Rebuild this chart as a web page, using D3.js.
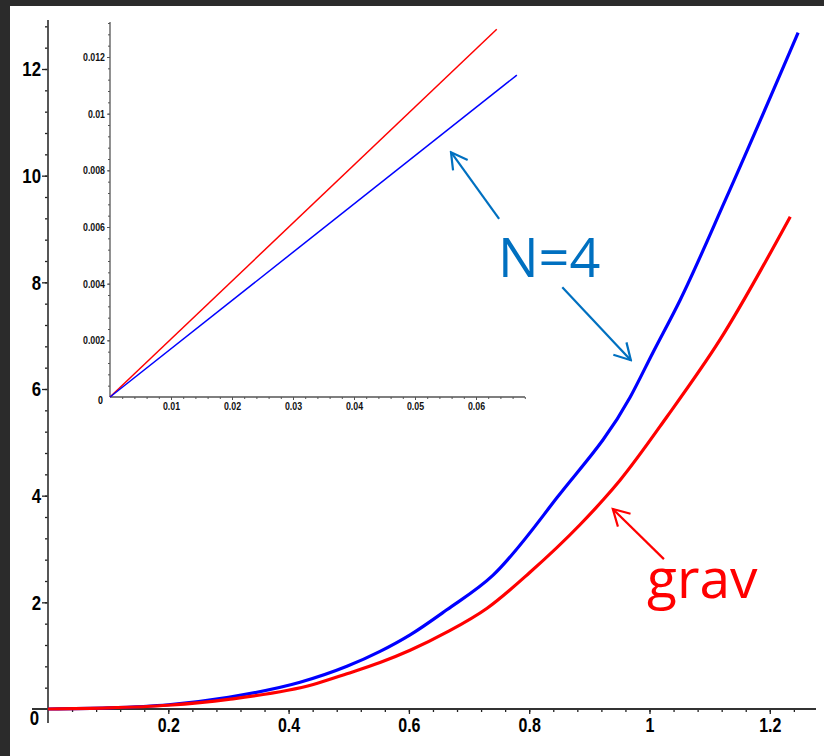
<!DOCTYPE html>
<html>
<head>
<meta charset="utf-8">
<script src="https://cdn.jsdelivr.net/npm/d3@7"></script>
<style>
  body { margin: 0; background: #fff; }
  .lbl { font-family: "Liberation Sans", Arial, sans-serif; font-weight: bold; }
</style>
</head>
<body>
<script>
// main plot data
var blueX = [0, 0.1, 0.2, 0.3, 0.419, 0.497, 0.552, 0.602, 0.663, 0.74, 0.846, 0.968, 1.006, 1.051, 1.126, 1.247];
var blueY = [0, 0.02, 0.08, 0.22, 0.5, 0.8, 1.08, 1.39, 1.86, 2.51, 3.96, 5.85, 6.69, 7.67, 9.54, 12.68];
var redX = [0, 0.1, 0.2, 0.3, 0.441, 0.497, 0.552, 0.602, 0.663, 0.73, 0.8, 0.884, 0.926, 0.951, 1.029, 1.117, 1.234];
var redY = [0, 0.02, 0.07, 0.18, 0.46, 0.66, 0.87, 1.1, 1.44, 1.89, 2.55, 3.45, 3.96, 4.29, 5.48, 6.92, 9.23];
var xTicks = [0.2, 0.4, 0.6, 0.8, 1, 1.2];
var yTicks = [0, 2, 4, 6, 8, 10, 12];

// inset data (straight lines)
var insetBlueX = [0, 0.0667];
var insetBlueY = [0, 0.01136];
var insetRedX = [0, 0.0634];
var insetRedY = [0, 0.01298];
var insetXTicks = [0.01, 0.02, 0.03, 0.04, 0.05, 0.06];
var insetYTicks = [0.002, 0.004, 0.006, 0.008, 0.01, 0.012];

var width = 824, height = 756;
var squeeze = 0.8; // condensed look of the maple labels

var svg = d3.select("body").append("svg")
  .attr("width", width)
  .attr("height", height);

svg.append("rect").attr("width", width).attr("height", height).attr("fill", "#fff");
// dark screen border
svg.append("rect").attr("width", width).attr("height", 6).attr("fill", "#2b2b2b");
svg.append("rect").attr("width", 10).attr("height", height).attr("fill", "#2b2b2b");

var x = d3.scaleLinear().domain([0, 1]).range([48, 649.5]);
var y = d3.scaleLinear().domain([0, 12]).range([709, 69]);

var xi = d3.scaleLinear().domain([0, 0.01]).range([110, 171]);
var yi = d3.scaleLinear().domain([0, 0.012]).range([397, 57]);

function minorTicks(step, lo, hi) {
  var out = [];
  for (var v = lo; v <= hi + 1e-9; v += step) out.push(+v.toFixed(6));
  return out;
}

// ---- main axes ----
var ax = svg.append("g").attr("transform", "translate(0," + y(0) + ")");
ax.call(d3.axisBottom(x).tickValues(minorTicks(0.04, 0.04, 1.26)).tickSize(3).tickFormat(""));
ax.append("g").call(d3.axisBottom(x).tickValues(xTicks).tickSize(5).tickFormat(d3.format("")));
ax.selectAll(".domain").remove();
ax.selectAll("text").attr("class", "lbl").style("font-size", "20px").attr("fill", "#000")
  .attr("y", 9).attr("dy", "0.71em").attr("transform", "scale(" + squeeze + ",1)");
ax.selectAll("line").attr("stroke", "#222").attr("stroke-width", 1.3);
ax.append("line").attr("x1", 32).attr("x2", 816).attr("stroke", "#333").attr("stroke-width", 1.8);

var ay = svg.append("g").attr("transform", "translate(" + x(0) + ",0)");
ay.call(d3.axisLeft(y).tickValues(minorTicks(0.4, 0.4, 12.8)).tickSize(3).tickFormat(""));
ay.append("g").call(d3.axisLeft(y).tickValues(yTicks).tickSize(6).tickFormat(d3.format("")));
ay.selectAll(".domain").remove();
ay.selectAll("text").attr("class", "lbl").style("font-size", "21px").attr("fill", "#000")
  .attr("x", -7 / squeeze).attr("transform", "scale(" + squeeze + ",1)")
  .filter(function(d) { return d === 0; }).attr("x", -9 / squeeze).attr("dy", "0.72em").each(function() {
    d3.select(this.parentNode).select("line").remove();
  });
ay.selectAll("line").attr("stroke", "#222").attr("stroke-width", 1.3);
ay.append("line").attr("y1", 20).attr("y2", 723).attr("stroke", "#444").attr("stroke-width", 1.8);

// ---- curves ----
var line = d3.line().x(function(d) { return x(d[0]); }).y(function(d) { return y(d[1]); }).curve(d3.curveMonotoneX);

svg.append("path").datum(blueX.map(function(v, i) { return [v, blueY[i]]; }))
  .attr("d", line).attr("fill", "none").attr("stroke", "#0000ff").attr("stroke-width", 3.2);
svg.append("path").datum(redX.map(function(v, i) { return [v, redY[i]]; }))
  .attr("d", line).attr("fill", "none").attr("stroke", "#ff0000").attr("stroke-width", 3.2);

// ---- inset ----
var ix = svg.append("g").attr("transform", "translate(0," + yi(0) + ")");
ix.call(d3.axisBottom(xi).tickValues(minorTicks(0.002, 0.002, 0.068)).tickSize(2).tickFormat(""));
ix.append("g").call(d3.axisBottom(xi).tickValues(insetXTicks).tickSize(3).tickFormat(d3.format("")));
ix.selectAll(".domain").remove();
ix.selectAll("text").attr("class", "lbl").style("font-size", "11px").attr("fill", "#111")
  .attr("y", 5).attr("dy", "0.71em").attr("transform", "scale(" + squeeze + ",1)");
ix.selectAll("line").attr("stroke", "#555").attr("stroke-width", 1);
ix.append("line").attr("x1", xi(0)).attr("x2", 525).attr("stroke", "#555").attr("stroke-width", 1.3);

var iy = svg.append("g").attr("transform", "translate(" + xi(0) + ",0)");
iy.call(d3.axisLeft(yi).tickValues(minorTicks(0.0004, 0.0004, 0.0132)).tickSize(2).tickFormat(""));
iy.append("g").call(d3.axisLeft(yi).tickValues(insetYTicks).tickSize(3).tickFormat(d3.format("")));
iy.selectAll(".domain").remove();
iy.selectAll("text").attr("class", "lbl").style("font-size", "11px").attr("fill", "#111")
  .attr("x", -5 / squeeze).attr("transform", "scale(" + squeeze + ",1)");
iy.selectAll("line").attr("stroke", "#555").attr("stroke-width", 1);
iy.append("line").attr("y1", 22).attr("y2", yi(0)).attr("stroke", "#555").attr("stroke-width", 1.3);
svg.append("text").attr("class", "lbl").attr("x", (xi(0) - 7) / squeeze).attr("y", yi(0) + 3)
  .attr("transform", "scale(" + squeeze + ",1)")
  .attr("text-anchor", "end").attr("dy", "0.35em").style("font-size", "11px").text("0");

var iline = d3.line().x(function(d) { return xi(d[0]); }).y(function(d) { return yi(d[1]); });
svg.append("path").datum(insetRedX.map(function(v, i) { return [v, insetRedY[i]]; }))
  .attr("d", iline).attr("fill", "none").attr("stroke", "#ff0000").attr("stroke-width", 1.5);
svg.append("path").datum(insetBlueX.map(function(v, i) { return [v, insetBlueY[i]]; }))
  .attr("d", iline).attr("fill", "none").attr("stroke", "#0000ff").attr("stroke-width", 1.5);

// ---- annotations ----
var defs = svg.append("defs");
[["arrBlue", "#0070c0"], ["arrRed", "#ff0000"]].forEach(function(m) {
  defs.append("marker").attr("id", m[0])
    .attr("viewBox", "0 0 20 20").attr("refX", 18).attr("refY", 10)
    .attr("markerWidth", 20).attr("markerHeight", 20)
    .attr("markerUnits", "userSpaceOnUse").attr("orient", "auto")
    .append("path").attr("d", "M2,1 L18,10 L2,19")
    .attr("fill", "none").attr("stroke", m[1]).attr("stroke-width", 2.2);
});

function arrow(x1, y1, x2, y2, col, mk) {
  svg.append("line").attr("x1", x1).attr("y1", y1).attr("x2", x2).attr("y2", y2)
    .attr("stroke", col).attr("stroke-width", 2.2).attr("marker-end", "url(#" + mk + ")");
}
// N=4 arrows: to inset blue line and to main blue curve
arrow(x(0.75), y(9.19), xi(0.0559), yi(0.00864), "#0070c0", "arrBlue");
arrow(x(0.855), y(7.91), x(0.969), y(6.54), "#0070c0", "arrBlue");
// grav arrow
arrow(x(1.024), y(2.81), x(0.939), y(3.75), "#ff0000", "arrRed");

svg.append("text").attr("x", x(0.748)).attr("y", y(8.1))
  .style("font-family", "'Open Sans', 'Noto Sans', sans-serif").style("font-size", "54px")
  .attr("fill", "#0070c0").text("N=4");
svg.append("text").attr("x", x(0.996)).attr("y", y(2.08))
  .style("font-family", "'Open Sans', 'Noto Sans', sans-serif").style("font-size", "55px")
  .attr("fill", "#ff0000").text("grav");
</script>
</body>
</html>
